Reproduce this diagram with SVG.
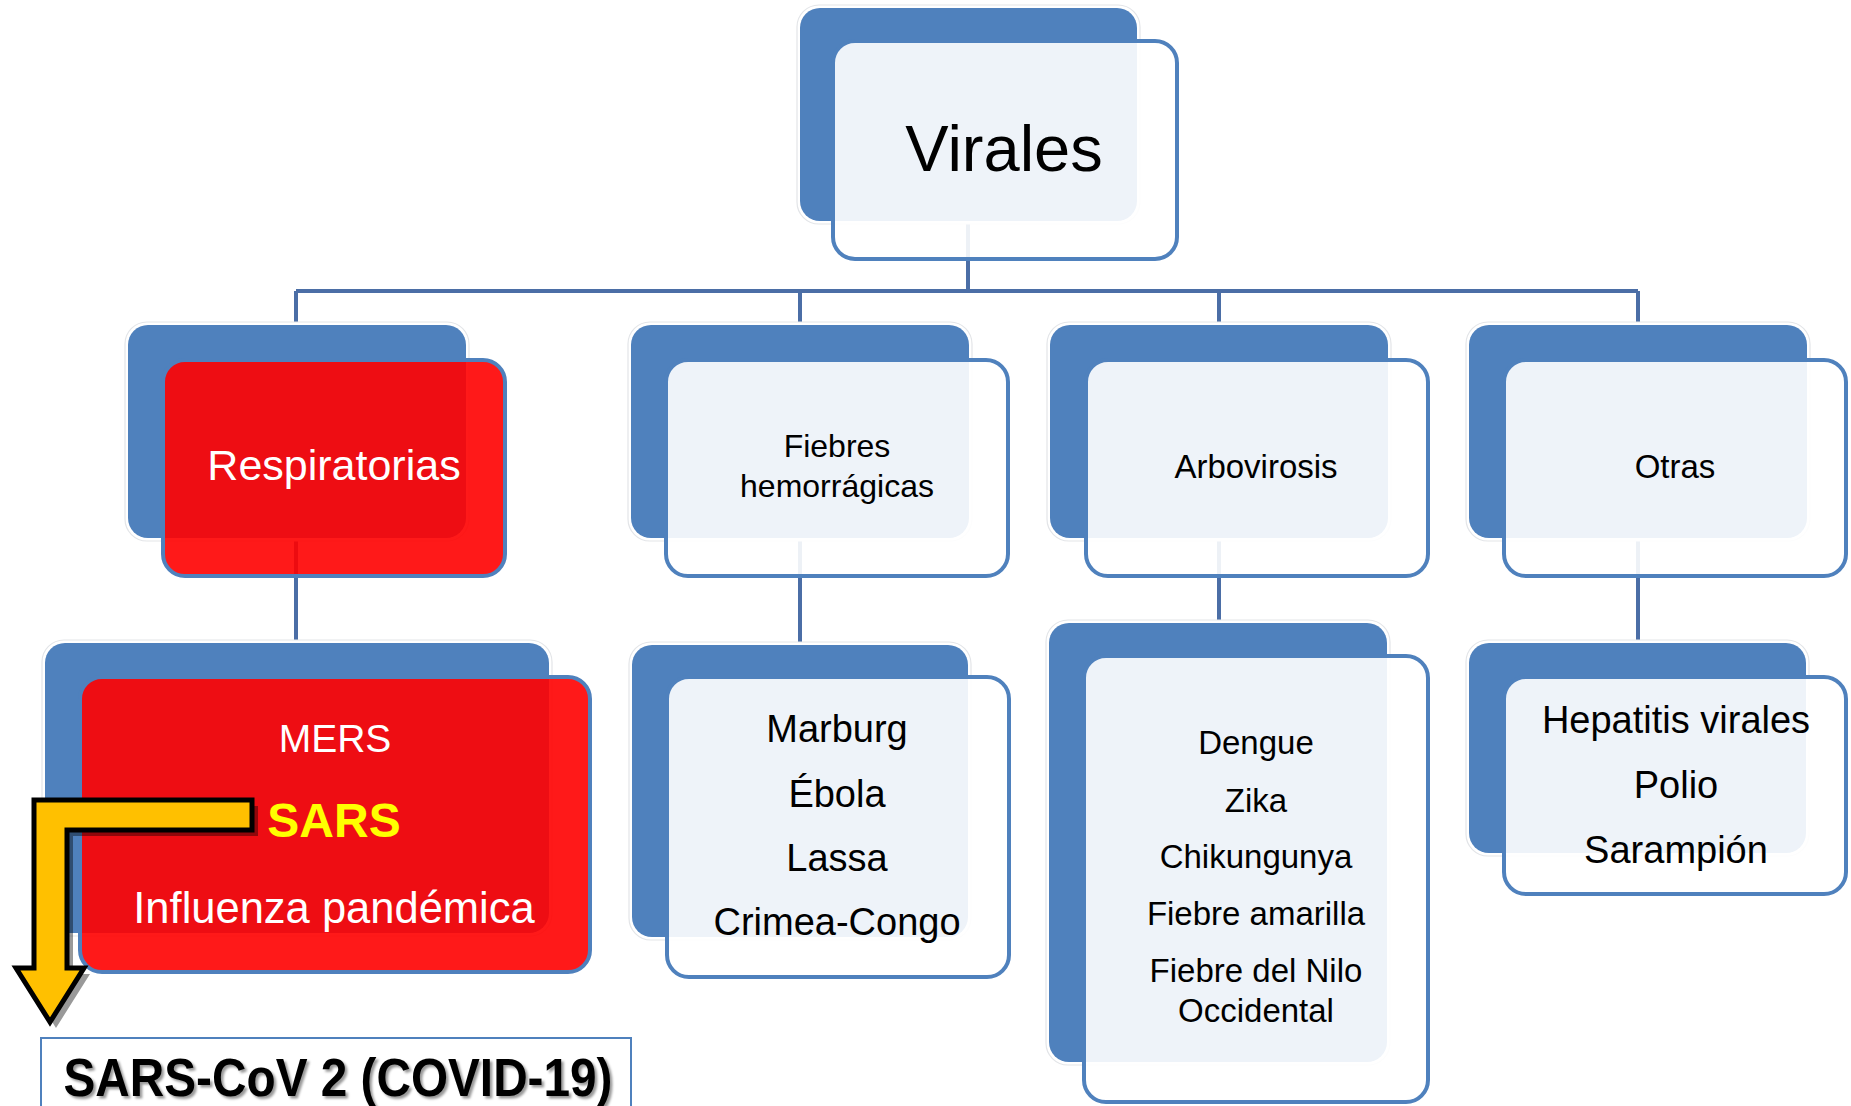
<svg xmlns="http://www.w3.org/2000/svg" width="1851" height="1106" viewBox="0 0 1851 1106">
<style>
.halo{fill:#fff;stroke:#e3e5e8;stroke-width:1.2}
.back{fill:#4F81BD}
.front{fill:#fff;fill-opacity:0.9;stroke:#4F81BD;stroke-width:4}
.red{fill:#ff0000;fill-opacity:0.9;stroke:#4F81BD;stroke-width:4}
.conn{fill:none;stroke:#4B6EA6;stroke-width:4}
.t{font-family:"Liberation Sans",Arial,sans-serif;text-anchor:middle;fill:#000}
.w{fill:#fff}
.arrow{fill:#FFC000;stroke:#000;stroke-width:5;stroke-linejoin:miter}
.ashadow{fill:#000;fill-opacity:0.4;stroke:none}
.covid{fill:#fff;stroke:#4F81BD;stroke-width:2}
</style>
<defs>
<filter id="tshadow" x="-5%" y="-20%" width="110%" height="140%">
<feDropShadow dx="2.5" dy="2.5" stdDeviation="1.2" flood-color="#000" flood-opacity="0.4"/>
</filter>
<polygon id="arrowShape" points="34,800 252,800 252,830 67,830 67,968 84,968 50,1022 16,968 34,968"/>
</defs>
<rect width="1851" height="1106" fill="#fff"/>

<g id="connectors">
<path class="conn" d="M968,200 V291"/>
<path class="conn" d="M296,291 H1638"/>
<path class="conn" d="M296,291 V340 M800,291 V340 M1219,291 V340 M1638,291 V340"/>
<path class="conn" d="M296,520 V660 M800,520 V660 M1219,520 V640 M1638,520 V660"/>
</g>

<g id="node-virales">
<rect class="halo" x="797" y="5" width="343" height="219" rx="22"/>
<rect class="back" x="800" y="8" width="337" height="213" rx="20"/>
<rect class="front" x="833" y="41" width="344" height="218" rx="22"/>
<text class="t" x="1004" y="171" font-size="65">Virales</text>
</g>

<g id="node-respiratorias">
<rect class="halo" x="125" y="322" width="344" height="219" rx="22"/>
<rect class="back" x="128" y="325" width="338" height="213" rx="20"/>
<rect class="red" x="163" y="360" width="342" height="216" rx="22"/>
<text class="t w" x="334" y="480" font-size="43">Respiratorias</text>
</g>

<g id="node-fiebres">
<rect class="halo" x="628" y="322" width="344" height="219" rx="22"/>
<rect class="back" x="631" y="325" width="338" height="213" rx="20"/>
<rect class="front" x="666" y="360" width="342" height="216" rx="22"/>
<text class="t" x="837" y="457" font-size="32">Fiebres</text>
<text class="t" x="837" y="497" font-size="32">hemorrágicas</text>
</g>

<g id="node-arbovirosis">
<rect class="halo" x="1047" y="322" width="344" height="219" rx="22"/>
<rect class="back" x="1050" y="325" width="338" height="213" rx="20"/>
<rect class="front" x="1086" y="360" width="342" height="216" rx="22"/>
<text class="t" x="1256" y="478" font-size="33">Arbovirosis</text>
</g>

<g id="node-otras">
<rect class="halo" x="1466" y="322" width="344" height="219" rx="22"/>
<rect class="back" x="1469" y="325" width="338" height="213" rx="20"/>
<rect class="front" x="1504" y="360" width="342" height="216" rx="22"/>
<text class="t" x="1675" y="478" font-size="33">Otras</text>
</g>

<g id="node-mers">
<rect class="halo" x="42" y="640" width="510" height="296" rx="22"/>
<rect class="back" x="45" y="643" width="504" height="290" rx="20"/>
<rect class="red" x="80" y="677" width="510" height="295" rx="22"/>
<text class="t w" x="335" y="752" font-size="39">MERS</text>
<text class="t" x="334" y="837" font-size="48" font-weight="bold" style="fill:#FFFF00">SARS</text>
<text class="t w" x="334" y="923" font-size="43.5">Influenza pandémica</text>
</g>

<g id="node-marburg">
<rect class="halo" x="629" y="642" width="342" height="298" rx="22"/>
<rect class="back" x="632" y="645" width="336" height="292" rx="20"/>
<rect class="front" x="667" y="677" width="342" height="300" rx="22"/>
<text class="t" x="837" y="742" font-size="38">Marburg</text>
<text class="t" x="837" y="807" font-size="38">Ébola</text>
<text class="t" x="837" y="871" font-size="38">Lassa</text>
<text class="t" x="837" y="935" font-size="38">Crimea-Congo</text>
</g>

<g id="node-dengue">
<rect class="halo" x="1046" y="620" width="344" height="445" rx="22"/>
<rect class="back" x="1049" y="623" width="338" height="439" rx="20"/>
<rect class="front" x="1084" y="656" width="344" height="446" rx="22"/>
<text class="t" x="1256" y="754" font-size="33">Dengue</text>
<text class="t" x="1256" y="812" font-size="33">Zika</text>
<text class="t" x="1256" y="868" font-size="33">Chikungunya</text>
<text class="t" x="1256" y="925" font-size="33">Fiebre amarilla</text>
<text class="t" x="1256" y="982" font-size="33">Fiebre del Nilo</text>
<text class="t" x="1256" y="1022" font-size="33">Occidental</text>
</g>

<g id="node-hepatitis">
<rect class="halo" x="1466" y="640" width="343" height="216" rx="22"/>
<rect class="back" x="1469" y="643" width="337" height="210" rx="20"/>
<rect class="front" x="1504" y="677" width="342" height="217" rx="22"/>
<text class="t" x="1676" y="733" font-size="38">Hepatitis virales</text>
<text class="t" x="1676" y="798" font-size="38">Polio</text>
<text class="t" x="1676" y="863" font-size="38">Sarampión</text>
</g>

<g id="arrow">
<use href="#arrowShape" class="ashadow" transform="translate(6,6)"/>
<use href="#arrowShape" class="arrow"/>
</g>

<g id="node-covid">
<rect class="covid" x="41" y="1038" width="590" height="100"/>
<text class="t" x="338" y="1096" font-size="54" font-weight="bold" textLength="549" lengthAdjust="spacingAndGlyphs" filter="url(#tshadow)">SARS-CoV 2 (COVID-19)</text>
</g>
</svg>
